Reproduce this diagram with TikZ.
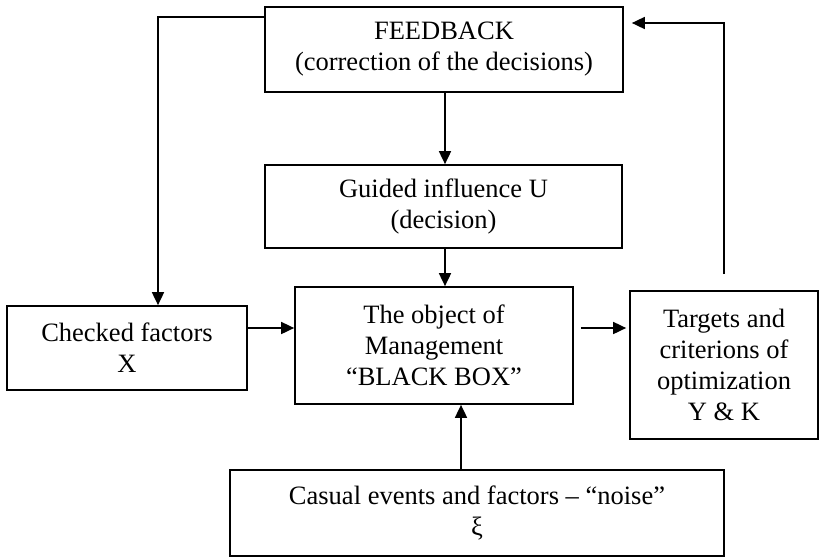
\documentclass[tikz,border=0pt]{standalone}
\usepackage{fontspec}
\setmainfont{Liberation Serif}
\usetikzlibrary{arrows.meta}

\begin{document}
\begin{tikzpicture}[x=1pt,y=-1pt,
    box/.style={draw,line width=1.7pt,align=center,inner sep=0pt,
        font=\fontsize{26.5}{31}\selectfont},
    arr/.style={line width=1.7pt,-{Triangle[length=13pt,width=12pt]}},
    lin/.style={line width=1.7pt}]
\useasboundingbox (0,0) rectangle (821,558);

\node[box,minimum width=358pt,minimum height=85pt] (fbk) at (444,49.5)
    {FEEDBACK\\(correction of the decisions)};
\node[box,minimum width=357pt,minimum height=83pt] (guide) at (443.5,206.5)
    {Guided influence U\\(decision)};
\node[box,minimum width=278pt,minimum height=117pt] (obj) at (434,345.5)
    {The object of\\Management\\``BLACK BOX''};
\node[box,minimum width=240pt,minimum height=84pt] (check) at (127,348)
    {Checked factors\\X};
\node[box,minimum width=188pt,minimum height=148pt] (target) at (724,365)
    {Targets and\\criterions of\\optimization\\Y \& K};
\node[box,minimum width=494pt,minimum height=86pt] (noise) at (477,513)
    {Casual events and factors -- ``noise''\\ξ};

% arrows
\draw[arr] (445,0 |- fbk.south) -- (445,0 |- guide.north);
\draw[arr] (445,0 |- guide.south) -- (445,0 |- obj.north);
\draw[arr] (461,0 |- noise.north) -- (461,0 |- obj.south);
\draw[arr] (check.east |- 0,328) -- (obj.west |- 0,328);
\draw[arr,shorten <=7pt,shorten >=3pt] (obj.east |- 0,328) -- (target.west |- 0,328);

% feedback loops
\draw[arr] (fbk.west |- 0,17) -| (158,0 |- check.north);
\draw[arr,shorten <=16pt,shorten >=8pt] (target.north) |- (fbk.east |- 0,23);
\end{tikzpicture}
\end{document}
